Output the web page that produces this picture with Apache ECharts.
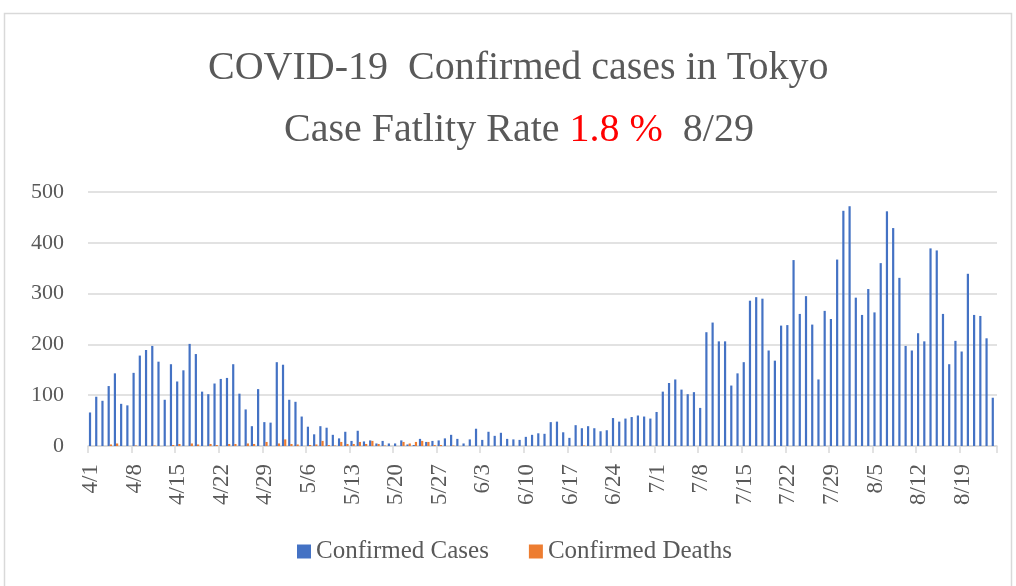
<!DOCTYPE html>
<html>
<head>
<meta charset="utf-8">
<script src="https://cdn.jsdelivr.net/npm/echarts@6/dist/echarts.min.js"></script>
<style>
	html, body { margin: 0; padding: 0; background: #fff; }
	#main { width: 1016px; height: 586px; }
</style>
</head>
<body>
<div id="main"></div>
<script>
	// 日付 (4/1 - 8/24)
	var april = ['4/1','4/2','4/3','4/4','4/5','4/6','4/7','4/8','4/9','4/10','4/11','4/12','4/13','4/14','4/15','4/16','4/17','4/18','4/19','4/20','4/21','4/22','4/23','4/24','4/25','4/26','4/27','4/28','4/29','4/30'];
	var may = ['5/1','5/2','5/3','5/4','5/5','5/6','5/7','5/8','5/9','5/10','5/11','5/12','5/13','5/14','5/15','5/16','5/17','5/18','5/19','5/20','5/21','5/22','5/23','5/24','5/25','5/26','5/27','5/28','5/29','5/30','5/31'];
	var june = ['6/1','6/2','6/3','6/4','6/5','6/6','6/7','6/8','6/9','6/10','6/11','6/12','6/13','6/14','6/15','6/16','6/17','6/18','6/19','6/20','6/21','6/22','6/23','6/24','6/25','6/26','6/27','6/28','6/29','6/30'];
	var july = ['7/1','7/2','7/3','7/4','7/5','7/6','7/7','7/8','7/9','7/10','7/11','7/12','7/13','7/14','7/15','7/16','7/17','7/18','7/19','7/20','7/21','7/22','7/23','7/24','7/25','7/26','7/27','7/28','7/29','7/30','7/31'];
	var august = ['8/1','8/2','8/3','8/4','8/5','8/6','8/7','8/8','8/9','8/10','8/11','8/12','8/13','8/14','8/15','8/16','8/17','8/18','8/19','8/20','8/21','8/22','8/23','8/24'];
	var dates = april.concat(may, june, july, august);

	// Confirmed Cases
	var casesApr = [66,97,89,118,143,83,80,144,178,189,197,166,91,161,127,149,201,181,107,102,123,132,134,161,103,72,39,112,47,46];
	var casesMay = [165,160,91,87,58,38,23,39,36,22,15,28,10,30,9,11,5,10,5,5,11,3,2,14,8,10,11,15,22,14,5];
	var casesJun = [13,34,12,28,20,26,14,13,12,18,22,25,24,47,48,27,16,41,35,39,35,29,31,55,48,54,57,60,58,54];
	var casesJul = [67,107,124,131,111,102,106,75,224,243,206,206,119,143,165,286,293,290,188,168,237,238,366,260,295,239,131,266,250,367,463];
	var casesAug = [472,292,258,309,263,360,462,429,331,197,188,222,206,389,385,260,161,207,186,339,258,256,212,95];
	var cases = casesApr.concat(casesMay, casesJun, casesJul, casesAug);

	// Confirmed Deaths
	var deathsApr = [0,0,0,3,5,0,0,1,0,0,1,0,0,2,4,0,5,3,0,4,2,0,4,4,0,5,4,0,8,0];
	var deathsMay = [5,13,4,3,0,2,3,10,2,1,8,4,4,8,4,10,4,1,0,0,8,5,8,10,8,2,2,0,1,0,0];
	var deathsJun = [0,0,0,0,0,0,0,0,0,0,0,0,0,0,0,0,0,0,1,0,0,0,0,0,0,0,0,0,0,0];
	var deathsJul = [0,0,0,0,0,0,0,0,0,0,0,0,0,0,0,0,0,0,0,0,0,0,0,0,0,0,0,0,0,0,0];
	var deathsAug = [0,0,0,0,0,0,0,0,0,0,0,0,0,0,0,0,0,0,0,0,0,0,0,0];
	var deaths = deathsApr.concat(deathsMay, deathsJun, deathsJul, deathsAug);

	var yTicks = [0, 100, 200, 300, 400, 500];

	var serif = '"Liberation Serif", "DejaVu Serif", serif';
	var gray = '#595959';

	var myChart = echarts.init(document.getElementById('main'));
	myChart.setOption({
		backgroundColor: '#fff',
		animation: false,
		graphic: [{
			type: 'rect',
			shape: { x: 4.5, y: 13.5, width: 1007, height: 600 },
			style: { fill: 'none', stroke: '#d9d9d9', lineWidth: 1.5 },
			silent: true
		}],
		title: [{
			text: 'COVID-19  Confirmed cases in Tokyo',
			left: 203,
			top: 43,
			textStyle: { fontFamily: serif, fontSize: 40, fontWeight: 'normal', color: gray }
		}, {
			text: '{a|Case Fatlity Rate }{r|1.8 %}{a|  8/29}',
			left: 279,
			top: 105,
			textStyle: {
				fontWeight: 'normal',
				rich: {
					a: { fontFamily: serif, fontSize: 40, fontWeight: 'normal', color: gray },
					r: { fontFamily: serif, fontSize: 40, fontWeight: 'normal', color: '#ff0000' }
				}
			}
		}],
		legend: {
			bottom: 17,
			left: 292,
			itemWidth: 14,
			itemHeight: 14,
			itemGap: 40,
			icon: 'rect',
			textStyle: { fontFamily: serif, fontSize: 25, color: gray },
			data: ['Confirmed Cases', 'Confirmed Deaths']
		},
		grid: { left: 88, right: 19, top: 192, bottom: 140, containLabel: false },
		xAxis: {
			type: 'category',
			data: dates,
			boundaryGap: true,
			axisLine: { lineStyle: { color: '#d9d9d9', width: 1.5 } },
			axisTick: { show: true, interval: 6, length: 7, lineStyle: { color: '#d9d9d9', width: 1.5 } },
			axisLabel: {
				interval: 6,
				rotate: 90,
				margin: 18,
				fontFamily: serif,
				fontSize: 23,
				color: gray
			}
		},
		yAxis: {
			type: 'value',
			min: yTicks[0],
			max: yTicks[yTicks.length - 1],
			interval: 100,
			axisLine: { show: false },
			axisTick: { show: false },
			splitLine: { lineStyle: { color: '#d9d9d9', width: 1.5 } },
			axisLabel: { fontFamily: serif, fontSize: 22, color: gray, margin: 24 }
		},
		series: [{
			name: 'Confirmed Cases',
			type: 'bar',
			data: cases,
			barWidth: 2.2,
			barGap: '0%',
			itemStyle: { color: '#4472c4' }
		}, {
			name: 'Confirmed Deaths',
			type: 'bar',
			data: deaths,
			barWidth: 2.2,
			itemStyle: { color: '#ed7d31' }
		}]
	});
</script>
</body>
</html>
